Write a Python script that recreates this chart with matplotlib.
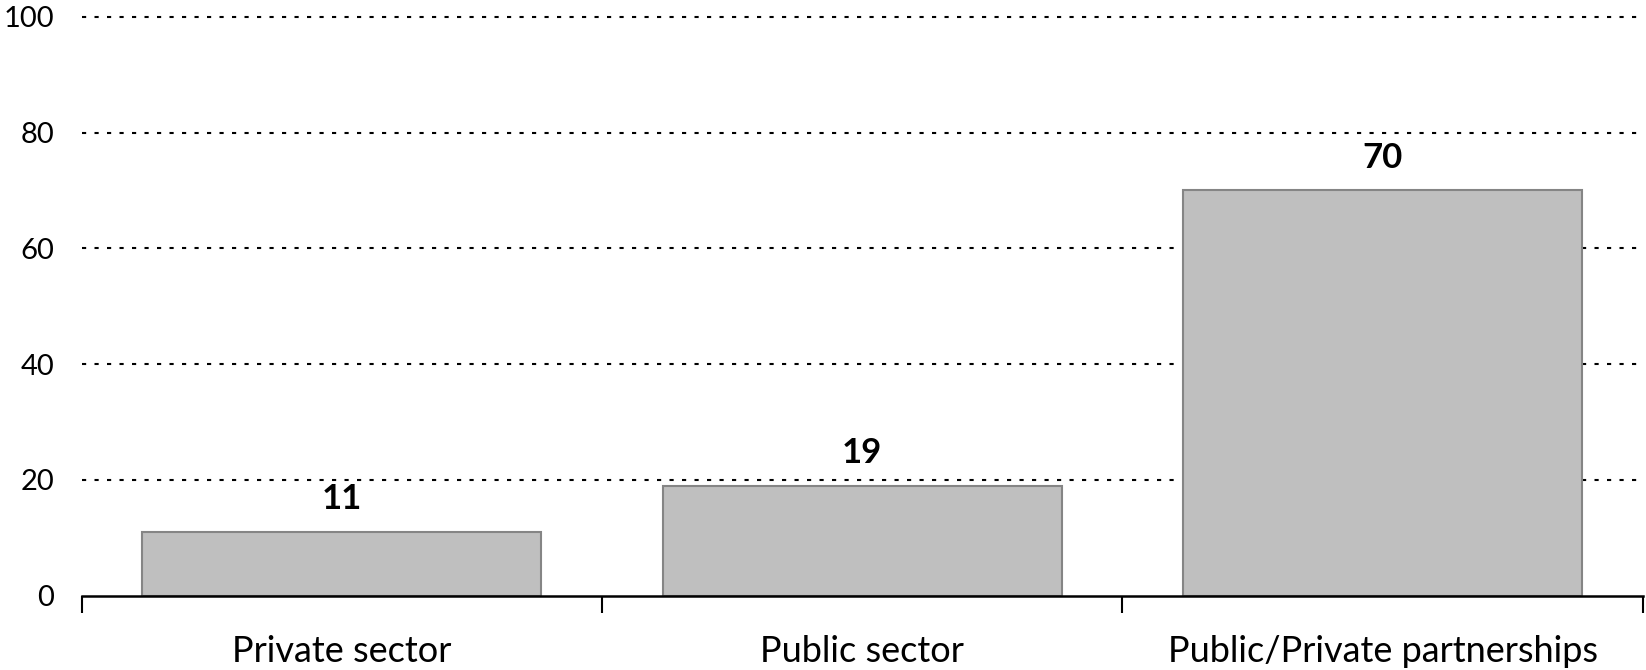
import matplotlib
matplotlib.use("Agg")
import matplotlib.pyplot as plt

plt.rcParams['font.family'] = ['Lato', 'DejaVu Sans']

# data
categories = ["Private sector", "Public sector", "Public/Private partnerships"]
values = [11, 19, 70]
yticks = [0, 20, 40, 60, 80, 100]

fig = plt.figure(figsize=(16.46, 6.70), dpi=100)
ax = fig.add_axes([0.0497, 0.111, 0.9483, 0.864])

x = range(len(categories))
bars = ax.bar(x, values, width=0.767, color="#bfbfbf", edgecolor="#858585",
              linewidth=1.5, zorder=3)

# value labels above the bars
for b, v in zip(bars, values):
    ax.annotate(str(v), (b.get_x() + b.get_width() / 2, v), xytext=(0, 12),
                textcoords="offset points", ha="center", va="bottom",
                fontsize=25, fontweight="bold", color="black")

ax.set_xlim(-0.5, 2.5)
ax.set_ylim(0, 100)
ax.set_yticks(yticks)
ax.tick_params(axis="y", length=0, pad=20, labelsize=21)

# category labels on major ticks, tick marks on the boundaries
ax.set_xticks(list(x))
ax.set_xticklabels(categories)
ax.tick_params(axis="x", which="major", length=0, pad=28, labelsize=26)
ax.set_xticks([-0.5, 0.5, 1.5, 2.5], minor=True)
ax.tick_params(axis="x", which="minor", length=12, width=1.5, color="black")

# dotted horizontal gridlines (not at zero)
for yv in yticks[1:]:
    ax.axhline(yv, color="black", linestyle=(0, (2, 4)), linewidth=1.5,
               zorder=1, clip_on=False)

for s in ["left", "right", "top"]:
    ax.spines[s].set_visible(False)
ax.spines["bottom"].set_linewidth(1.8)
ax.spines["bottom"].set_zorder(4)

fig.savefig("out.png", dpi=100)
